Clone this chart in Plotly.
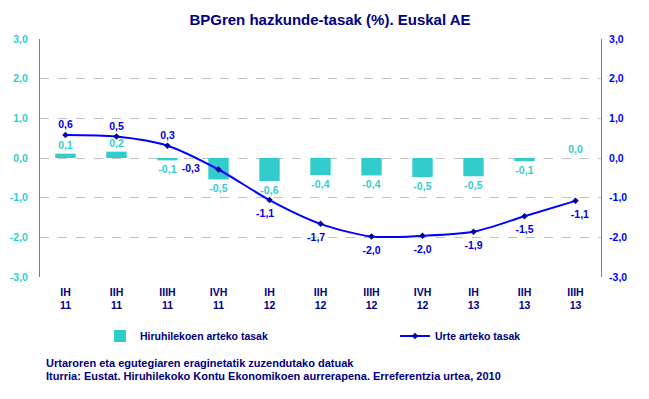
import plotly.graph_objects as go

quarters = ["IH", "IIH", "IIIH", "IVH", "IH", "IIH", "IIIH", "IVH", "IH", "IIH", "IIIH"]
years = ["11", "11", "11", "11", "12", "12", "12", "12", "13", "13", "13"]
quarterly = [0.11, 0.16, -0.06, -0.54, -0.58, -0.43, -0.44, -0.48, -0.46, -0.08, 0.0]
annual = [0.58, 0.54, 0.31, -0.29, -1.06, -1.66, -1.98, -1.96, -1.86, -1.47, -1.08]
ytick_vals = [-3, -2, -1, 0, 1, 2, 3]

categories = [f"{q}<br>{y}" for q, y in zip(quarters, years)]
def fmt(v):
    return f"{v:.1f}".replace(".", ",")
ytick_text = [fmt(v) for v in ytick_vals]

TEAL = "#33CCCC"
BLUE = "#0000FF"
NAVY = "#000080"
GRAY = "#808080"
FONT = "Liberation Sans, Arial, sans-serif"

# page has an 8px body margin: figure is shrunk and shifted to compensate
W, H = 641, 391
L, T, PW, PH = 32, 31, 561, 238
R, B = W - L - PW, H - T - PH
def px(xp):  # page x -> paper x
    return (xp - 8 - L) / PW
def py(yp):  # page y -> paper y
    return (T + PH - (yp - 8)) / PH

NB = "\u00a0"
line_text = [fmt(v) for v in annual]
line_text[3] = line_text[3] + NB * 5
line_text[4] = line_text[4] + NB * 3
line_text[5] = line_text[5] + NB * 3
line_text[10] = NB * 3 + line_text[10]
line_pos = ["top center"] * 3 + ["middle left"] + ["bottom center"] * 7
label_sizes = [5, 5, 5, 5] + [13] * 7

fig = go.Figure()
fig.add_trace(go.Bar(
    x=categories, y=quarterly, name="Hiruhilekoen arteko tasak",
    marker=dict(color=TEAL, line=dict(width=0)),
    text=[fmt(v) for v in quarterly], textposition="outside",
    textfont=dict(color=TEAL, size=10.5, family=FONT, weight="bold"),
    cliponaxis=False, yaxis="y", legend="legend", hoverinfo="skip",
))
fig.add_trace(go.Scatter(
    x=categories, y=annual, name="Urte arteko tasak",
    mode="lines+markers",
    line=dict(color=BLUE, width=2, shape="spline", smoothing=0.8),
    marker=dict(color="#0000A0", size=5, symbol="diamond"),
    cliponaxis=False, yaxis="y2", legend="legend2",
))
# data labels of the annual series
fig.add_trace(go.Scatter(
    x=categories, y=annual, mode="markers+text", showlegend=False,
    marker=dict(size=label_sizes, opacity=0),
    text=line_text, textposition=line_pos,
    textfont=dict(color="#0000E0", size=10.5, family=FONT, weight="bold"),
    cliponaxis=False, yaxis="y2", hoverinfo="skip",
))

legend_common = dict(orientation="h", xanchor="left", yanchor="middle", y=py(336),
                     font=dict(color=NAVY, size=10.5, family=FONT, weight="bold"),
                     bgcolor="rgba(0,0,0,0)")

fig.update_layout(
    width=W, height=H,
    margin=dict(l=L, r=R, t=T, b=B, pad=0),
    paper_bgcolor="white", plot_bgcolor="white",
    font=dict(family=FONT, size=10, color=NAVY, weight="bold"),
    separators=",.",
    bargap=0.6,
    title=dict(text="BPGren hazkunde-tasak (%). Euskal AE", x=(330 - 8) / W, xanchor="center",
               y=1 - (20 - 8) / H, yanchor="middle", xref="container", yref="container",
               font=dict(size=15, color=NAVY, family=FONT, weight="bold")),
    xaxis=dict(type="category", range=[-0.5, 10.5], showline=False, showgrid=False,
               zeroline=False, ticks="", tickfont=dict(color=NAVY, size=10.5, weight="bold"),
               ticklabelstandoff=7, automargin=False),
    xaxis2=dict(overlaying="x", anchor="free", position=0.5, range=[-0.5, 10.5],
                tick0=0.5, dtick=1, ticks="outside", ticklen=4, tickcolor=GRAY,
                showline=True, linecolor=GRAY, linewidth=1, showticklabels=False,
                showgrid=False, zeroline=False, automargin=False),
    yaxis=dict(range=[-3, 3], tickvals=ytick_vals, ticktext=ytick_text,
               tickfont=dict(color=TEAL, size=10.5, weight="bold"),
               showgrid=True, gridcolor="#C0C0C0", griddash="dash", gridwidth=1,
               zeroline=False, showline=True, linecolor=GRAY, linewidth=1,
               ticks="", ticklabelstandoff=9, automargin=False),
    yaxis2=dict(range=[-3, 3], tickvals=ytick_vals, ticktext=ytick_text, overlaying="y",
                side="right", tickfont=dict(color=BLUE, size=10.5, weight="bold"),
                showgrid=False, zeroline=False, showline=True, linecolor=GRAY, linewidth=1,
                ticks="", ticklabelstandoff=5, automargin=False),
    legend=dict(x=px(138 - 38), **legend_common),
    legend2=dict(x=px(433 - 38), **legend_common),
    showlegend=True,
)
fig.add_annotation(text="Urtaroren eta egutegiaren eraginetatik zuzendutako datuak",
                   xref="paper", yref="paper", x=px(44), y=py(363),
                   xanchor="left", yanchor="middle", showarrow=False,
                   font=dict(color=NAVY, size=11, family=FONT, weight="bold"))
fig.add_annotation(text="Iturria: Eustat. Hiruhilekoko Kontu Ekonomikoen aurrerapena. Erreferentzia urtea, 2010",
                   xref="paper", yref="paper", x=px(44), y=py(376),
                   xanchor="left", yanchor="middle", showarrow=False,
                   font=dict(color=NAVY, size=11, family=FONT, weight="bold"))

fig.write_html("out.html")
